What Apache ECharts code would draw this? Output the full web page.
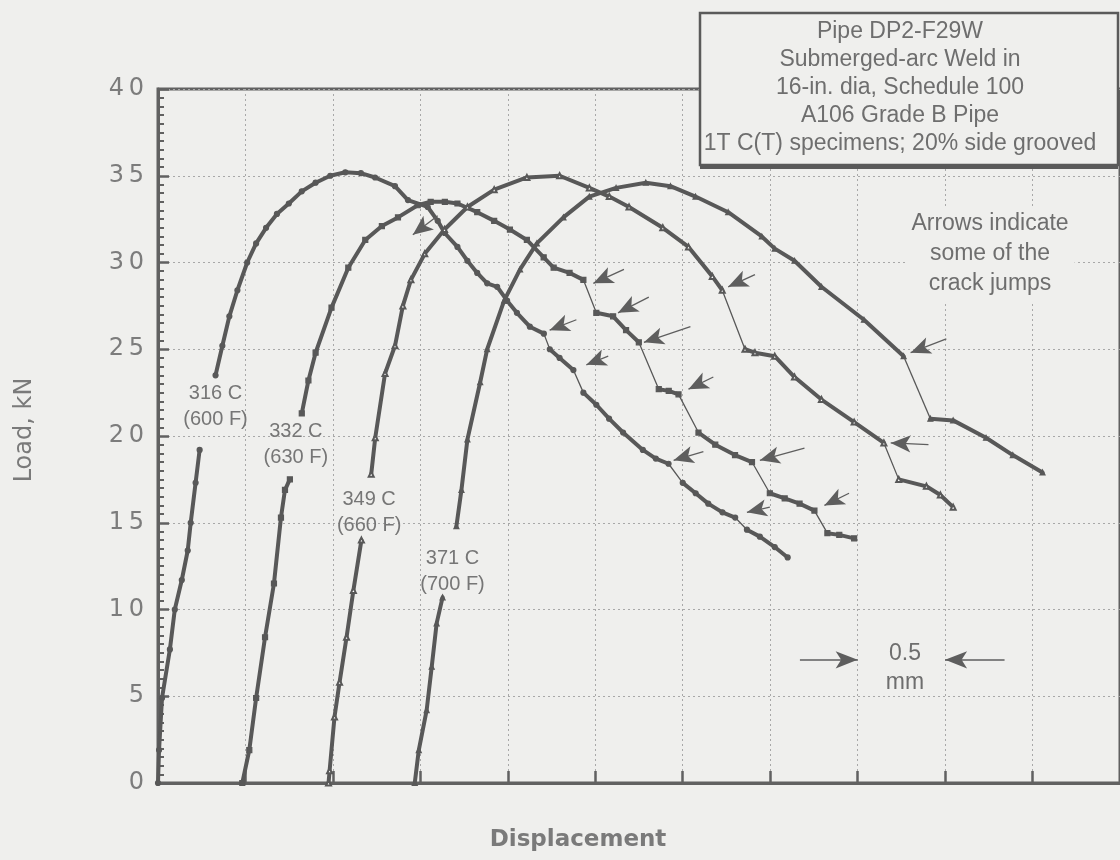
<!DOCTYPE html>
<html>
<head>
<meta charset="utf-8">
<script src="https://cdn.jsdelivr.net/npm/echarts@6/dist/echarts.min.js"></script>
<style>
  html, body { margin: 0; padding: 0; background: #efefed; }
  #chart { width: 1120px; height: 860px; }
</style>
</head>
<body>
<div id="chart"></div>
<script>
// Specimen test temperatures
const tempC = ['316 C', '332 C', '349 C', '371 C'];
const tempF = ['(600 F)', '(630 F)', '(660 F)', '(700 F)'];

// Load (kN) vs displacement (mm) traces. Each trace is a list of recorded
// stretches; the first break is hidden under the temperature label, every
// later break is a crack jump.
const trace316 = [
  [[0, 0], [0.006, 1.9], [0.023, 4.9], [0.068, 7.7], [0.096, 10.0], [0.136, 11.7], [0.170, 13.4], [0.187, 15.0], [0.215, 17.3], [0.238, 19.2]],
  [[0.329, 23.5], [0.368, 25.2], [0.408, 26.9], [0.454, 28.4], [0.510, 30.0], [0.561, 31.1], [0.618, 32.0], [0.680, 32.8], [0.748, 33.4], [0.822, 34.1], [0.901, 34.6], [0.985, 35.0], [1.071, 35.2], [1.160, 35.15], [1.241, 34.9], [1.355, 34.4], [1.429, 33.6], [1.542, 33.2], [1.599, 32.4], [1.639, 31.7], [1.712, 30.9], [1.769, 30.1], [1.825, 29.4], [1.882, 28.8], [1.939, 28.6], [1.996, 27.8], [2.052, 27.1], [2.126, 26.3], [2.206, 25.9]],
  [[2.240, 25.0], [2.296, 24.5], [2.375, 23.8]],
  [[2.432, 22.5], [2.506, 21.8], [2.579, 21.0], [2.659, 20.2], [2.772, 19.2], [2.846, 18.7], [2.919, 18.4]],
  [[3.000, 17.3], [3.074, 16.7], [3.146, 16.1], [3.227, 15.6], [3.300, 15.3]],
  [[3.367, 14.6], [3.441, 14.2], [3.526, 13.6], [3.600, 13.0]]
];
const trace332 = [
  [[0.482, 0], [0.522, 1.9], [0.561, 4.9], [0.612, 8.4], [0.663, 11.5], [0.703, 15.3], [0.726, 16.9], [0.754, 17.5]],
  [[0.822, 21.3], [0.860, 23.2], [0.901, 24.8], [0.992, 27.4], [1.088, 29.7], [1.185, 31.3], [1.280, 32.1], [1.372, 32.6], [1.485, 33.3], [1.559, 33.5], [1.640, 33.5], [1.712, 33.4], [1.825, 32.9], [1.922, 32.4], [2.012, 31.9], [2.109, 31.3], [2.205, 30.3], [2.262, 29.7], [2.353, 29.4], [2.432, 29.0]],
  [[2.506, 27.1], [2.602, 26.9], [2.676, 26.1], [2.749, 25.4]],
  [[2.863, 22.7], [2.920, 22.6], [2.976, 22.4]],
  [[3.090, 20.2], [3.186, 19.5], [3.299, 18.9], [3.396, 18.5]],
  [[3.498, 16.7], [3.583, 16.4], [3.668, 16.1], [3.753, 15.7]],
  [[3.827, 14.4], [3.895, 14.3], [3.980, 14.1]]
];
const trace349 = [
  [[0.975, 0], [0.981, 0.7], [1.009, 3.8], [1.038, 5.8], [1.078, 8.4], [1.117, 11.1], [1.163, 14.0]],
  [[1.219, 17.8], [1.242, 19.9], [1.298, 23.6], [1.355, 25.2], [1.400, 27.5], [1.446, 29.0], [1.525, 30.5], [1.638, 31.9], [1.769, 33.2], [1.922, 34.2], [2.109, 34.9], [2.296, 35.0], [2.466, 34.3], [2.580, 33.8], [2.693, 33.2], [2.886, 32.0], [3.033, 30.9], [3.169, 29.2], [3.226, 28.4]],
  [[3.356, 25.0], [3.413, 24.8], [3.526, 24.6], [3.639, 23.4], [3.793, 22.1], [3.980, 20.8], [4.150, 19.6]],
  [[4.235, 17.5], [4.393, 17.1], [4.473, 16.6], [4.546, 15.9]]
];
const trace371 = [
  [[1.468, 0], [1.491, 1.9], [1.536, 4.2], [1.565, 6.7], [1.593, 9.2], [1.627, 10.7]],
  [[1.706, 14.8], [1.735, 16.9], [1.769, 19.8], [1.842, 23.1], [1.882, 25.0], [1.979, 27.8], [2.070, 29.6], [2.166, 31.1], [2.318, 32.6], [2.466, 33.8], [2.619, 34.3], [2.789, 34.6], [2.930, 34.4], [3.073, 33.8], [3.260, 32.9], [3.452, 31.5], [3.526, 30.8], [3.639, 30.1], [3.793, 28.6], [4.036, 26.7], [4.263, 24.6]],
  [[4.416, 21.0], [4.546, 20.9], [4.734, 19.9], [4.887, 18.9], [5.057, 17.9]]
];

// Where each temperature label sits (mm, kN)
const labelAt = [[0.329, 21.7], [0.788, 19.5], [1.207, 15.6], [1.684, 12.2]];

// Crack-jump pointers: [tail, tip] in (mm, kN)
const crackArrows = [
  [[1.599, 32.7], [1.457, 31.6]],
  [[2.664, 29.6], [2.489, 28.8]],
  [[2.806, 28.0], [2.630, 27.1]],
  [[2.392, 26.7], [2.239, 26.1]],
  [[3.044, 26.3], [2.778, 25.4]],
  [[2.574, 24.6], [2.449, 24.1]],
  [[3.175, 23.4], [3.033, 22.7]],
  [[3.118, 19.1], [2.948, 18.6]],
  [[3.696, 19.3], [3.441, 18.6]],
  [[3.498, 15.9], [3.367, 15.6]],
  [[3.951, 16.7], [3.810, 16.0]],
  [[3.413, 29.3], [3.260, 28.6]],
  [[4.507, 25.6], [4.303, 24.8]],
  [[4.405, 19.5], [4.189, 19.6]]
];

// 0.5 mm scale bar pointers: [tail, tip]
const scaleArrows = [
  [[3.67, 7.1], [4.0, 7.1]],
  [[4.84, 7.1], [4.5, 7.1]]
];

const boxLines = [
  'Pipe DP2-F29W',
  'Submerged-arc Weld in',
  '16-in. dia, Schedule 100',
  'A106 Grade B Pipe',
  '1T C(T) specimens; 20% side grooved'
];
const noteLines = ['Arrows indicate', 'some of the', 'crack jumps'];
const scaleLines = ['0.5', 'mm'];

const BG = '#efefed';
const INK = '#585858';
const AXIS = '#616161';
const TEXT = '#767676';
const marks = ['circle', 'rect', 'emptyTriangle', 'triangle'];

const traces = [trace316, trace332, trace349, trace371];
const GAP = ['-', '-'];

function joinStretches(segs) {
  const out = [];
  segs.forEach((s, i) => {
    if (i) out.push(GAP);
    s.forEach(p => out.push(p));
  });
  return out;
}
function jumpLinks(segs) {
  const out = [];
  for (let i = 1; i < segs.length - 1; i++) {
    out.push(segs[i][segs[i].length - 1], segs[i + 1][0], GAP);
  }
  return out;
}

const series = [];
traces.forEach((segs, k) => {
  series.push({
    type: 'line',
    name: tempC[k],
    data: joinStretches(segs),
    connectNulls: false,
    showSymbol: true,
    showAllSymbol: true,
    symbol: marks[k],
    symbolSize: 5,
    lineStyle: { width: 4, color: INK, join: 'round', cap: 'round' },
    itemStyle: { color: INK, borderColor: INK, borderWidth: 1.2 },
    emphasis: { disabled: true },
    z: 3,
    markPoint: {
      silent: true,
      symbol: 'circle',
      symbolSize: 1,
      itemStyle: { color: 'rgba(0,0,0,0)' },
      label: {
        show: true,
        position: 'inside',
        formatter: tempC[k] + '\n' + tempF[k],
        color: TEXT,
        fontFamily: 'Liberation Sans',
        fontSize: 20,
        lineHeight: 26
      },
      data: [{ coord: labelAt[k] }]
    }
  });
  series.push({
    type: 'line',
    name: tempC[k] + ' jumps',
    data: jumpLinks(segs),
    connectNulls: false,
    symbol: 'none',
    lineStyle: { width: 1.3, color: INK },
    emphasis: { disabled: true },
    z: 2
  });
});

series.push({
  type: 'line',
  name: 'pointers',
  data: [],
  markLine: {
    silent: true,
    symbol: ['none', 'arrow'],
    symbolSize: [13, 20],
    lineStyle: { color: '#5e5e5e', width: 1.3, type: 'solid' },
    itemStyle: { color: '#5e5e5e' },
    label: { show: false },
    emphasis: { disabled: true },
    data: crackArrows.map(([a, b]) => [{ coord: a }, { coord: b }])
  }
});
series.push({
  type: 'line',
  name: 'scale',
  data: [],
  markLine: {
    silent: true,
    symbol: ['none', 'arrow'],
    symbolSize: [13, 22],
    lineStyle: { color: '#5e5e5e', width: 1.5, type: 'solid' },
    itemStyle: { color: '#5e5e5e' },
    label: { show: false },
    emphasis: { disabled: true },
    data: scaleArrows.map(([a, b]) => [{ coord: a }, { coord: b }])
  }
});

const chart = echarts.init(document.getElementById('chart'), null, { renderer: 'canvas' });
chart.setOption({
  backgroundColor: BG,
  animation: false,
  grid: {
    left: 158, top: 89, width: 970, height: 694,
    show: true, borderColor: AXIS, borderWidth: 3, backgroundColor: 'transparent'
  },
  xAxis: {
    type: 'value', min: 0, max: 5.5, interval: 0.5,
    axisLine: { show: true, onZero: false, lineStyle: { color: AXIS, width: 3 } },
    axisTick: { show: true, inside: true, length: 12, lineStyle: { color: AXIS, width: 2.5 } },
    axisLabel: { show: false },
    splitLine: { show: true, lineStyle: { color: '#a8a8a8', width: 1, type: [2, 3] } }
  },
  yAxis: {
    type: 'value', min: 0, max: 40, interval: 5,
    axisLine: { show: true, onZero: false, lineStyle: { color: AXIS, width: 3 } },
    axisTick: { show: true, inside: true, length: 11, lineStyle: { color: AXIS, width: 2.5 } },
    minorTick: { show: true, splitNumber: 10, length: 6, lineStyle: { color: AXIS, width: 2 } },
    axisLabel: {
      margin: 14,
      color: '#7c7c7c',
      fontFamily: 'DejaVu Sans',
      fontSize: 24,
      formatter: v => String(v).split('').join('\u2009')
    },
    splitLine: { show: true, lineStyle: { color: '#a8a8a8', width: 1, type: [2, 3] } }
  },
  series: series,
  graphic: [
    {
      type: 'text', x: 25, y: 430, rotation: Math.PI / 2, z: 50,
      style: {
        text: 'Load, kN', fill: '#7a7a7a', font: '24px "DejaVu Sans"',
        align: 'center', verticalAlign: 'middle', textAlign: 'center', textVerticalAlign: 'middle'
      }
    },
    {
      type: 'text', x: 578, y: 840, z: 50,
      style: {
        text: 'Displacement', fill: '#7a7a7a', font: 'bold 23px "DejaVu Sans"',
        align: 'center', verticalAlign: 'middle', textAlign: 'center', textVerticalAlign: 'middle'
      }
    },
    {
      // drop shadow under the specimen box
      type: 'rect', z: 99,
      shape: { x: 700, y: 17, width: 418, height: 152 },
      style: { fill: '#5a5a5a' }
    },
    {
      type: 'rect', z: 100,
      shape: { x: 700, y: 13, width: 418, height: 152 },
      style: { fill: BG, stroke: '#5a5a5a', lineWidth: 2.5 }
    },
    {
      type: 'text', x: 900, y: 18, z: 101,
      style: {
        text: boxLines.join('\n'), fill: '#6e6e6e', font: '23px "Liberation Sans"', lineHeight: 28,
        align: 'center', verticalAlign: 'top', textAlign: 'center', textVerticalAlign: 'top'
      }
    },
    {
      type: 'text', x: 990, y: 207, z: 60,
      style: {
        text: noteLines.join('\n'), fill: '#6e6e6e', font: '23px "Liberation Sans"', lineHeight: 30,
        align: 'center', verticalAlign: 'top', textAlign: 'center', textVerticalAlign: 'top',
        backgroundColor: BG, padding: [2, 6]
      }
    },
    {
      type: 'text', x: 905, y: 639, z: 60,
      style: {
        text: scaleLines.join('\n'), fill: '#6e6e6e', font: '23px "Liberation Sans"', lineHeight: 29,
        align: 'center', verticalAlign: 'top', textAlign: 'center', textVerticalAlign: 'top'
      }
    }
  ]
});
</script>
</body>
</html>
